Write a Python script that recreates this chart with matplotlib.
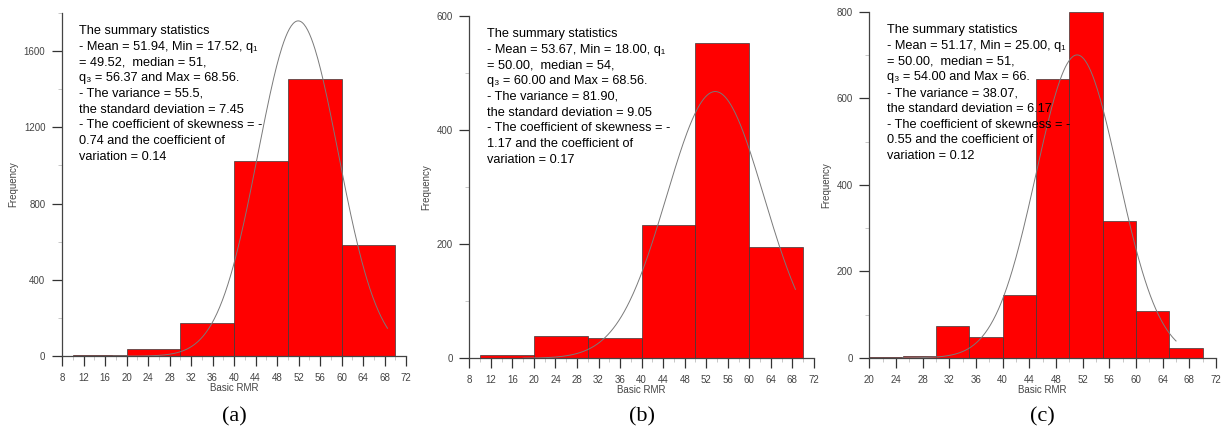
import numpy as np
import matplotlib.pyplot as plt
from matplotlib.ticker import MultipleLocator

plt.rcParams['font.family'] = ['Liberation Sans', 'DejaVu Sans']

# bin edges and frequencies for each data set
edges_a = [10, 20, 30, 40, 50, 60, 70]
freq_a = [5, 40, 175, 1025, 1455, 582]
edges_b = [10, 20, 30, 40, 50, 60, 70]
freq_b = [6, 39, 35, 233, 552, 195]
edges_c = [20, 25, 30, 35, 40, 45, 50, 55, 60, 65, 70]
freq_c = [1, 5, 73, 49, 146, 644, 800, 317, 109, 23]

# mean, std, min, max used for the fitted normal curve
stats_a = (51.94, 7.45, 17.52, 68.56)
stats_b = (53.67, 9.05, 18.00, 68.56)
stats_c = (51.17, 6.17, 25.00, 66.0)

text_a = ("The summary statistics\n"
          "- Mean = 51.94, Min = 17.52, q\u2081\n"
          "= 49.52,  median = 51,\n"
          "q\u2083 = 56.37 and Max = 68.56.\n"
          "- The variance = 55.5,\n"
          "the standard deviation = 7.45\n"
          "- The coefficient of skewness = -\n"
          "0.74 and the coefficient of\n"
          "variation = 0.14")
text_b = ("The summary statistics\n"
          "- Mean = 53.67, Min = 18.00, q\u2081\n"
          "= 50.00,  median = 54,\n"
          "q\u2083 = 60.00 and Max = 68.56.\n"
          "- The variance = 81.90,\n"
          "the standard deviation = 9.05\n"
          "- The coefficient of skewness = -\n"
          "1.17 and the coefficient of\n"
          "variation = 0.17")
text_c = ("The summary statistics\n"
          "- Mean = 51.17, Min = 25.00, q\u2081\n"
          "= 50.00,  median = 51,\n"
          "q\u2083 = 54.00 and Max = 66.\n"
          "- The variance = 38.07,\n"
          "the standard deviation = 6.17\n"
          "- The coefficient of skewness = -\n"
          "0.55 and the coefficient of\n"
          "variation = 0.12")

fig = plt.figure(figsize=(12.24, 4.26), dpi=100)


def panel(rect, edges, freq, stats, text, xlim, ymax, ystep, letter):
    ax = fig.add_axes(rect)
    edges = np.array(edges, dtype=float)
    widths = np.diff(edges)
    ax.bar(edges[:-1], freq, width=widths, align='edge', color='#ff0000',
           edgecolor='#3a3a3a', linewidth=0.5, zorder=2)

    # normal curve scaled to the histogram counts
    mean, sd, lo, hi = stats
    xs = np.linspace(lo, hi, 300)
    scale = sum(freq) * widths[0]
    ys = scale / (sd * np.sqrt(2 * np.pi)) * np.exp(-0.5 * ((xs - mean) / sd) ** 2)
    ax.plot(xs, ys, color='#7a7a7a', linewidth=0.7, zorder=3)

    ax.set_xlim(*xlim)
    ax.set_ylim(0, ymax)
    ax.xaxis.set_major_locator(MultipleLocator(4))
    ax.xaxis.set_minor_locator(MultipleLocator(2))
    ax.yaxis.set_major_locator(MultipleLocator(ystep))
    ax.yaxis.set_minor_locator(MultipleLocator(ystep / 2))
    for s in ('top', 'right'):
        ax.spines[s].set_visible(False)
    for s in ('left', 'bottom'):
        ax.spines[s].set_color('#444444')
        ax.spines[s].set_linewidth(0.9)
    ax.tick_params(which='major', length=7, width=0.9, color='#333333',
                   labelsize=7, labelcolor='#444444', pad=5)
    ax.tick_params(which='minor', length=3, width=0.7, color='#c8c8c8')
    ax.set_xlabel('Basic RMR', fontsize=7, color='#444444', labelpad=0)
    ax.set_ylabel('Frequency', fontsize=7, color='#444444', labelpad=4)
    ax.text(0.05, 0.965, text, transform=ax.transAxes, ha='left', va='top',
            fontsize=9.2, linespacing=1.42, zorder=5)
    fig.text(rect[0] + rect[2] * 0.5, 0.0, letter, ha='center', va='bottom',
             fontsize=16, family='Liberation Serif')
    return ax


panel([0.0507, 0.164, 0.281, 0.806], edges_a, freq_a, stats_a, text_a,
      (8, 72), 1800, 400, '(a)')
panel([0.3834, 0.159, 0.2816, 0.804], edges_b, freq_b, stats_b, text_b,
      (8, 72), 600, 200, '(b)')
panel([0.7102, 0.160, 0.2833, 0.812], edges_c, freq_c, stats_c, text_c,
      (20, 72), 800, 200, '(c)')

fig.savefig('out.png', dpi=100)
